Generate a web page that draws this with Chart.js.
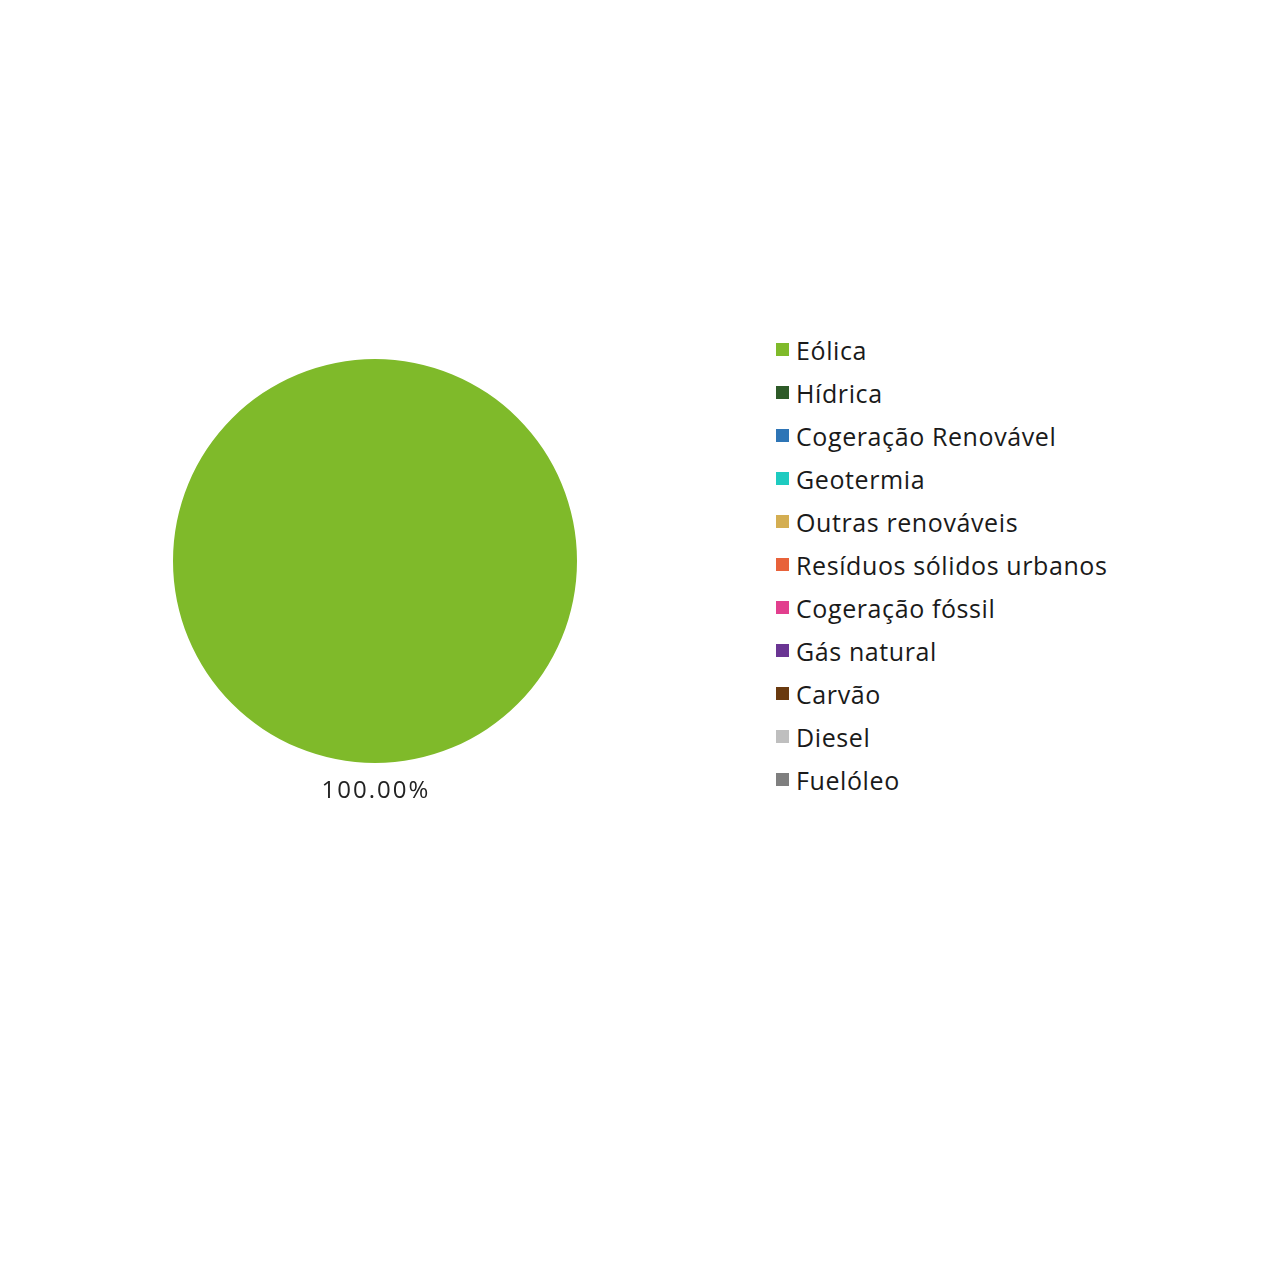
<!DOCTYPE html>
<html>
<head>
<meta charset="utf-8">
<script src="https://cdn.jsdelivr.net/npm/chart.js@4"></script>
<style>
  html, body { margin: 0; padding: 0; background: #fff; }
  #wrap { position: relative; width: 1280px; height: 1280px; }
  #pieBox { position: absolute; left: 0; top: 0; width: 750px; height: 1280px; }
  #legend { position: absolute; left: 776px; top: 328px; font-family: "Open Sans", sans-serif; font-size: 25px; letter-spacing: 0.6px; color: #1a1a1a; }
  .item { height: 43px; display: flex; align-items: center; }
  .box { width: 13px; height: 13px; margin-right: 7px; }
</style>
</head>
<body>
<div id="wrap">
  <div id="pieBox"><canvas id="myChart"></canvas></div>
  <div id="legend"></div>
</div>
<script>
var labels = ["Eólica", "Hídrica", "Cogeração Renovável", "Geotermia", "Outras renováveis",
  "Resíduos sólidos urbanos", "Cogeração fóssil", "Gás natural", "Carvão", "Diesel", "Fuelóleo"];
var shares = [100, 0, 0, 0, 0, 0, 0, 0, 0, 0, 0];
var colors = ["#7fba2a", "#2d5a27", "#2e75b6", "#1ecbc0", "#d4ae52",
  "#e8623a", "#e23f8e", "#6a3593", "#6a3a0f", "#bfbfbf", "#7f7f7f"];

// percentage label just outside each slice
var outsideLabels = {
  id: "outsideLabels",
  afterDatasetsDraw: function (chart) {
    var ctx = chart.ctx;
    var meta = chart.getDatasetMeta(0);
    var data = chart.data.datasets[0].data;
    var total = data.reduce(function (a, b) { return a + b; }, 0);
    ctx.save();
    ctx.font = "24px 'Open Sans', sans-serif";
    ctx.letterSpacing = "2px";
    ctx.fillStyle = "#222";
    ctx.textAlign = "center";
    ctx.textBaseline = "middle";
    meta.data.forEach(function (arc, i) {
      if (!data[i]) return;
      var mid = (arc.startAngle + arc.endAngle) / 2;
      var r = arc.outerRadius + 28;
      var x = arc.x + Math.cos(mid) * r;
      var y = arc.y + Math.sin(mid) * r;
      ctx.fillText((data[i] / total * 100).toFixed(2) + "%", x + 1, y);
    });
    ctx.restore();
  }
};

new Chart("myChart", {
  type: "pie",
  data: {
    labels: labels,
    datasets: [{ data: shares, backgroundColor: colors, borderWidth: 0 }]
  },
  options: {
    responsive: true,
    maintainAspectRatio: false,
    animation: false,
    layout: { padding: { left: 173, right: 173, top: 359, bottom: 517 } },
    plugins: { legend: { display: false }, tooltip: { enabled: false } }
  },
  plugins: [outsideLabels]
});

var legend = document.getElementById("legend");
for (var i = 0; i < labels.length; i++) {
  var row = document.createElement("div");
  row.className = "item";
  row.innerHTML = '<span class="box" style="background:' + colors[i] + '"></span><span>' + labels[i] + "</span>";
  legend.appendChild(row);
}
</script>
</body>
</html>
